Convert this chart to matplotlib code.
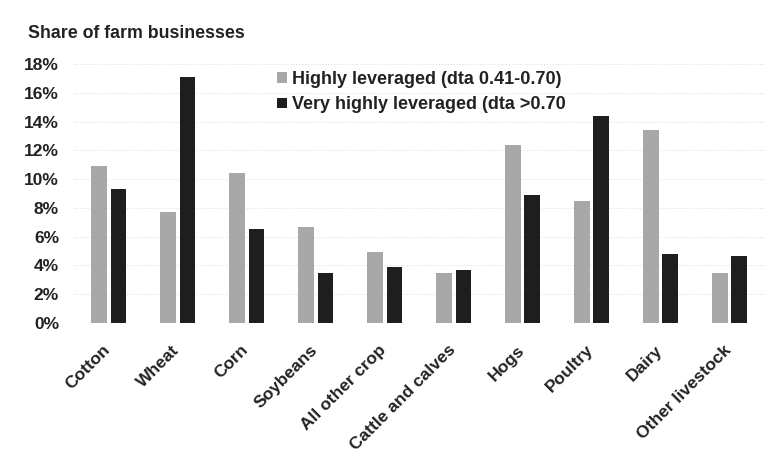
import matplotlib
matplotlib.use("Agg")
import matplotlib.pyplot as plt, numpy as np
from matplotlib.ticker import FuncFormatter

categories = ['Cotton', 'Wheat', 'Corn', 'Soybeans', 'All other crop',
              'Cattle and calves', 'Hogs', 'Poultry', 'Dairy', 'Other livestock']
highly = [10.9, 7.7, 10.4, 6.7, 4.95, 3.5, 12.4, 8.5, 13.4, 3.5]
very_highly = [9.3, 17.1, 6.5, 3.5, 3.9, 3.7, 8.9, 14.4, 4.8, 4.65]
series_names = ['Highly leveraged (dta 0.41-0.70)', 'Very highly leveraged (dta >0.70']

plt.rcParams['font.family'] = ['Liberation Sans', 'DejaVu Sans']

fig = plt.figure(figsize=(7.83, 4.76), dpi=100)
ax = fig.add_axes([0.095, 0.3214, 0.881, 0.5441])

x = np.arange(len(categories))
w = 0.23
_ = ax.bar(x - 0.14, highly, w, color='#a8a8a8', label=series_names[0], zorder=2)
_ = ax.bar(x + 0.14, very_highly, w, color='#1e1e1e', label=series_names[1], zorder=2)

_ = ax.set_xlim(-0.5, len(categories) - 0.5)
_ = ax.set_ylim(0, 18)
_ = ax.set_yticks(np.arange(0, 19, 2))
ax.yaxis.set_major_formatter(FuncFormatter(lambda v, p: '{:.0f}%'.format(v)))
_ = ax.grid(axis='y', color='#d8d8d8', lw=0.7, ls=(0, (1, 2)), zorder=0)

# labels sit a little left of the group centre, as in the original
_ = ax.set_xticks(x - 0.09)
_ = ax.set_xticklabels(categories, rotation=45, ha='right', rotation_mode='anchor',
                       fontsize=12.5, fontweight='bold', color='#222222')
for t in ax.get_yticklabels():
    t.set_fontsize(12.5)
    t.set_fontweight('bold')
    t.set_color('#222222')
ax.tick_params(axis='both', length=0)
ax.tick_params(axis='x', pad=14)
ax.tick_params(axis='y', pad=11)

for spine in ["left", "top", "right", "bottom"]:
    ax.spines[spine].set_visible(False)

leg = ax.legend(loc='upper left', bbox_to_anchor=(0.27, 1.035), frameon=False,
                handlelength=0.55, handleheight=0.55, handletextpad=0.3,
                labelspacing=0.45, prop={'weight': 'bold', 'size': 13})
for t in leg.get_texts():
    t.set_color('#222222')

fig.text(0.036, 0.92, 'Share of farm businesses', fontsize=12.8, fontweight='bold',
         color='#222222')

fig.savefig('out.png', dpi=100)
